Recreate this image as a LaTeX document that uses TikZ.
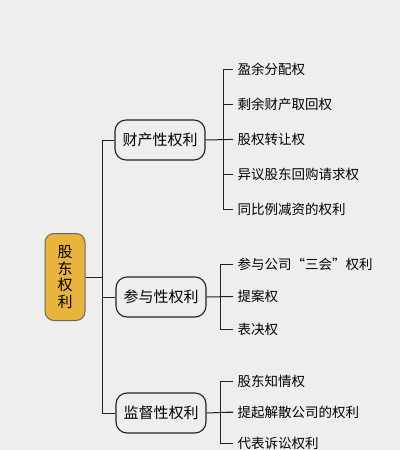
\documentclass[tikz,border=0pt]{standalone}
\usepackage{fontspec}
\setmainfont{Noto Sans CJK SC}
\usepackage{xcolor}
\usetikzlibrary{positioning}
\definecolor{rootColor}{HTML}{E8B43E}
\definecolor{paperColor}{HTML}{EEEEEC}
\definecolor{inkColor}{HTML}{222222}

\begin{document}
\begin{tikzpicture}[x=1pt, y=-1pt, line width=1pt, draw=inkColor,
    rootBox/.style={draw=black!60, fill=rootColor, rounded corners=9pt, minimum width=40pt,
        minimum height=87pt, align=center, font=\fontsize{15}{16.5}\selectfont, inner sep=2pt},
    groupBox/.style={draw=inkColor, line width=1.1pt, rounded corners=11pt, minimum width=90pt,
        minimum height=40pt, font=\fontsize{15}{16}\selectfont},
    leaf/.style={anchor=west, inner xsep=4pt, inner ysep=0pt, font=\fontsize{13.5}{15}\selectfont}]
    \fill[paperColor] (0, 0) rectangle (400, 450);

    \node[rootBox] (root) at (65, 277) {股\\东\\权\\利};
    \node[groupBox] (property) at (160, 140) {财产性权利};
    \node[groupBox] (participate) at (161, 297) {参与性权利};
    \node[groupBox] (supervise) at (161, 413) {监督性权利};

    % main trunk
    \coordinate (trunk) at (102, 0);
    \draw (root.east) -- (root.east -| trunk);
    \draw (property.west) -| (supervise.west -| trunk) -- (supervise.west);
    \draw (participate.west) -- (participate.west -| trunk);

    % property rights
    \foreach \txt [count=\i] in {盈余分配权, 剩余财产取回权, 股权转让权, 异议股东回购请求权, 同比例减资的权利} {
        \node[leaf] (propLeaf\i) at (233, {69 + 35.2*(\i-1)}) {\txt};
        \draw (propLeaf\i.west) -- ++(-10, 0);
    }
    \draw ([xshift=-10pt]propLeaf1.west) -- ([xshift=-10pt]propLeaf5.west);
    \draw (property.east) -- (propLeaf3.west);

    % participation rights
    \foreach \txt [count=\i] in {参与公司“三会”权利, 提案权, 表决权} {
        \node[leaf] (partLeaf\i) at (233, {264 + 32.5*(\i-1)}) {\txt};
        \draw (partLeaf\i.west) -- ++(-13, 0);
    }
    \draw ([xshift=-13pt]partLeaf1.west) -- ([xshift=-13pt]partLeaf3.west);
    \draw (participate.east) -- (partLeaf2.west);

    % supervision rights
    \foreach \txt [count=\i] in {股东知情权, 提起解散公司的权利, 代表诉讼权利} {
        \node[leaf] (supLeaf\i) at (233, {381 + 31*(\i-1)}) {\txt};
        \draw (supLeaf\i.west) -- ++(-13, 0);
    }
    \draw ([xshift=-13pt]supLeaf1.west) -- ([xshift=-13pt]supLeaf3.west);
    \draw (supervise.east) -- (supLeaf2.west);
\end{tikzpicture}
\end{document}
